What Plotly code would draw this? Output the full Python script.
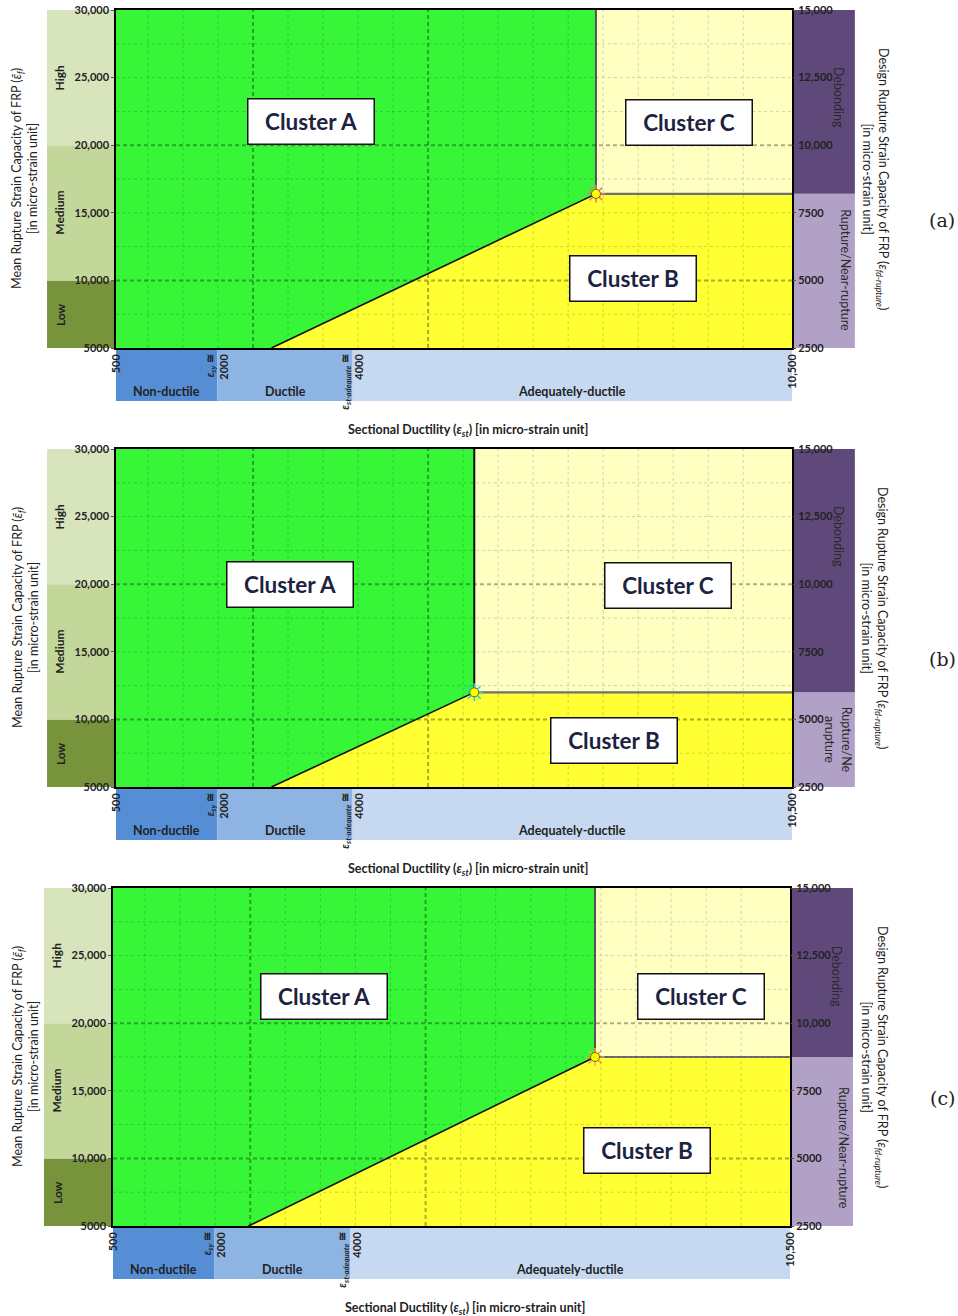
import numpy as np
import plotly.graph_objects as go

# ---------------- data ----------------
panel_labels = ["(a)", "(b)", "(c)"]
diag_start_x = [2800, 2800, 2500]        # where the A/B boundary leaves the x axis
break_x = [7600, 5800, 7620]             # corner point (ductility)
break_y = [16400, 12000, 17500]          # corner point (mean rupture strain)

x_range = [500, 10500]
y_left_range = [5000, 30000]
y_right_range = [2500, 15000]

x_tickvals = [500, 2000, 4000, 10500]
x_ticktext = ["500",
              "<span style='font-size:11px'><i>ε<sub>sy</sub></i> ≅</span><br>2000",
              "<span style='font-size:11px'><i>ε<sub>st-adequate</sub></i> ≅</span><br>4000",
              "10,500"]
y_left_ticks = [5000, 10000, 15000, 20000, 25000, 30000]
y_left_text = ["5000", "10,000", "15,000", "20,000", "25,000", "30,000"]
y_right_ticks = [2500, 5000, 7500, 10000, 12500, 15000]
y_right_text = ["2500", "5000", "7500", "10,000", "12,500", "15,000"]

frp_class_edges = [5000, 10000, 20000, 30000]
frp_class_names = ["Low", "Medium", "High"]
duct_class_edges = [500, 2000, 4000, 10500]
duct_class_names = ["Non-ductile", "Ductile", "Adequately-ductile"]
mode_names = ["Rupture/Near-rupture", "Debonding"]
mode_names_b = "Rupture/Ne<br>arupture"
debond_label_y = [0.74, 0.74, 0.74]      # fraction of plot height
rupture_label_y = [0.23, 0.14, 0.23]

cluster_names = ["Cluster A", "Cluster B", "Cluster C"]
# label box centres (fraction of plot area)
cluster_pos = [
    {"Cluster A": (0.288, 0.669), "Cluster B": (0.765, 0.207), "Cluster C": (0.848, 0.666)},
    {"Cluster A": (0.257, 0.598), "Cluster B": (0.737, 0.139), "Cluster C": (0.817, 0.595)},
    {"Cluster A": (0.312, 0.680), "Cluster B": (0.789, 0.222), "Cluster C": (0.869, 0.680)},
]

# ---------------- styles ----------------
W, H = 958, 1316
plot_px = [  # left, right, top, bottom in page pixels
    (116, 792, 10, 348),
    (116, 792, 449, 787),
    (113, 790, 888, 1226),
]
GRID_X0, GRID_DX = 2527, 518          # dashed grid spacing (style only)
GREEN = "#37f537"
YELLOW = "#ffff33"
LYELLOW = "#ffffc2"
frp_colors = ["#77933c", "#c4d79b", "#d8e4bc"]
duct_colors = ["#558ed5", "#8db4e2", "#c6d9f1"]
mode_colors = ["#b2a1c7", "#5f497a"]
FONT = "Lato"
TXT = "#222222"
CL_TXT = "#1c2340"

fig = go.Figure()
shapes = []
annotations = []
layout = {}


def ann(**kw):
    kw.setdefault("showarrow", False)
    kw.setdefault("xanchor", "center")
    kw.setdefault("yanchor", "middle")
    annotations.append(kw)


for i in range(3):
    xa = "x" if i == 0 else f"x{i + 1}"
    yl = "y" if i == 0 else f"y{2 * i + 1}"
    yr = f"y{2 * i + 2}"
    xkey = "xaxis" if i == 0 else f"xaxis{i + 1}"
    ylkey = "yaxis" if i == 0 else f"yaxis{2 * i + 1}"
    yrkey = f"yaxis{2 * i + 2}"
    L, R, T, B = plot_px[i]
    xdom = [L / W, R / W]
    ydom = [1 - B / H, 1 - T / H]
    x0, px, py = diag_start_x[i], break_x[i], break_y[i]
    xr1 = x_range[1]
    yb, yt = y_left_range

    # regions
    fig.add_trace(go.Scatter(x=[x_range[0], x0, px, px, x_range[0]], y=[yb, yb, py, yt, yt],
                             fill="toself", fillcolor=GREEN, mode="none", xaxis=xa, yaxis=yl,
                             showlegend=False, hoverinfo="skip"))
    fig.add_trace(go.Scatter(x=[x0, xr1, xr1, px], y=[yb, yb, py, py],
                             fill="toself", fillcolor=YELLOW, mode="none", xaxis=xa, yaxis=yl,
                             showlegend=False, hoverinfo="skip"))
    fig.add_trace(go.Scatter(x=[px, xr1, xr1, px], y=[py, py, yt, yt],
                             fill="toself", fillcolor=LYELLOW, mode="none", xaxis=xa, yaxis=yl,
                             showlegend=False, hoverinfo="skip"))

    # grid lines (above fills)
    for j in range(-3, 15):
        gx = GRID_X0 + j * GRID_DX
        thick = j in (0, 5)
        shapes.append(dict(type="line", xref=xa, yref=f"{yl} domain", x0=gx, x1=gx, y0=0, y1=1,
                           line=dict(color="rgba(0,0,0,0.32)" if thick else "rgba(0,0,0,0.17)",
                                     width=2 if thick else 1, dash="4px,3px" if thick else "3px,3px"),
                           layer="above"))
    for gy in np.arange(7500, 30000, 2500):
        thick = gy in (10000, 20000)
        shapes.append(dict(type="line", xref=f"{xa} domain", yref=yl, x0=0, x1=1, y0=gy, y1=gy,
                           line=dict(color="rgba(0,0,0,0.32)" if thick else "rgba(0,0,0,0.17)",
                                     width=2 if thick else 1, dash="4px,3px" if thick else "3px,3px"),
                           layer="above"))

    # boundaries
    fig.add_trace(go.Scatter(x=[x0, px], y=[yb, py], mode="lines", line=dict(color="#111111", width=1.6),
                             xaxis=xa, yaxis=yl, showlegend=False, hoverinfo="skip", cliponaxis=False))
    fig.add_trace(go.Scatter(x=[px, px], y=[py, yt], mode="lines",
                             line=dict(color="#111111" if i == 1 else "#555555", width=2),
                             xaxis=xa, yaxis=yl, showlegend=False, hoverinfo="skip"))
    fig.add_trace(go.Scatter(x=[px, xr1], y=[py, py], mode="lines", line=dict(color="#707070", width=2.2),
                             xaxis=xa, yaxis=yl, showlegend=False, hoverinfo="skip"))
    # corner marker
    fig.add_trace(go.Scatter(x=[px], y=[py], mode="markers",
                             marker=dict(symbol="asterisk-open", size=15, line=dict(color="#4a4a20", width=1.5)),
                             xaxis=xa, yaxis=yl, showlegend=False, hoverinfo="skip", cliponaxis=False))
    fig.add_trace(go.Scatter(x=[px], y=[py], mode="markers",
                             marker=dict(symbol="circle", size=9, color="#ffff00", line=dict(color="#6b6b10", width=1)),
                             xaxis=xa, yaxis=yl, showlegend=False, hoverinfo="skip", cliponaxis=False))
    # dummy for right axis
    fig.add_trace(go.Scatter(x=[xr1, xr1], y=y_right_range, mode="lines", line=dict(width=0),
                             xaxis=xa, yaxis=yr, showlegend=False, hoverinfo="skip"))

    # left bands (FRP class)
    for k, name in enumerate(frp_class_names):
        shapes.append(dict(type="rect", xref=f"{xa} domain", yref=yl, x0=-0.102, x1=0,
                           y0=frp_class_edges[k], y1=frp_class_edges[k + 1],
                           fillcolor=frp_colors[k], line=dict(width=0), layer="below"))
        ann(xref=f"{xa} domain", yref=yl, x=-0.083,
            y=(frp_class_edges[k] + frp_class_edges[k + 1]) / 2,
            text=name, textangle=-90,
            font=dict(family=FONT, size=12, color=TXT, weight="bold"))
    # right bands (failure mode)
    mode_edges = [yb, py, yt]
    for k, name in enumerate(mode_names):
        shapes.append(dict(type="rect", xref=f"{xa} domain", yref=yl, x0=1, x1=1.093,
                           y0=mode_edges[k], y1=mode_edges[k + 1],
                           fillcolor=mode_colors[k], line=dict(width=0), layer="below"))
    ann(xref=f"{xa} domain", yref=f"{yl} domain", x=1.068, y=debond_label_y[i],
        text=mode_names[1], textangle=90,
        font=dict(family=FONT, size=12.5, color="#2a2a2a"))
    ann(xref=f"{xa} domain", yref=f"{yl} domain", x=1.068 if i == 1 else 1.08, y=rupture_label_y[i],
        text=mode_names_b if i == 1 else mode_names[0], textangle=90,
        font=dict(family=FONT, size=12.5, color="#2a2a2a"))
    # bottom bands (ductility class)
    for k, name in enumerate(duct_class_names):
        shapes.append(dict(type="rect", xref=xa, yref=f"{yl} domain",
                           x0=duct_class_edges[k], x1=duct_class_edges[k + 1], y0=-0.157, y1=0,
                           fillcolor=duct_colors[k], line=dict(width=0), layer="below"))
        ann(xref=xa, yref=f"{yl} domain",
            x=(duct_class_edges[k] + duct_class_edges[k + 1]) / 2, y=-0.128,
            text=name,
            font=dict(family=FONT, size=12.5, color=TXT, weight="bold"))

    # cluster label boxes
    for name in cluster_names:
        cx, cy = cluster_pos[i][name]
        ann(xref=f"{xa} domain", yref=f"{yl} domain", x=cx, y=cy,
            text=name, bgcolor="white",
            bordercolor="#111111", borderwidth=1.5, borderpad=0,
            width=125, height=44,
            font=dict(family=FONT, size=22.5, color=CL_TXT, weight="bold"))

    # axis titles
    ann(xref=f"{xa} domain", yref=f"{yl} domain", x=0.52, y=-0.243,
        text="Sectional Ductility (<i>ε<sub>st</sub></i>) [in micro-strain unit]",
        font=dict(family=FONT, size=12.5, color=TXT, weight="bold"))
    ann(xref="paper", yref=f"{yl} domain", x=25 / W, y=0.50,
        text="Mean Rupture Strain Capacity of FRP (<i>ε̄<sub>f</sub></i>)<br>[in micro-strain unit]",
        textangle=-90, font=dict(family=FONT, size=12.5, color=TXT))
    ann(xref="paper", yref=f"{yl} domain", x=875 / W, y=0.50,
        text="Design Rupture Strain Capacity of FRP (<i>ε<sub>fd-rupture</sub></i>)<br>[in micro-strain unit]",
        textangle=90, font=dict(family=FONT, size=12.5, color=TXT))
    ann(xref="paper", yref=f"{yl} domain", x=942 / W, y=0.38,
        text=panel_labels[i],
        font=dict(family="DejaVu Serif", size=19, color="#222222"))

    tickfont = dict(family=FONT, size=11, color=TXT, weight="bold")
    layout[xkey] = dict(domain=xdom, anchor=yl, range=x_range, tickvals=x_tickvals, ticktext=x_ticktext,
                        tickangle=-90, showgrid=False, zeroline=False, showline=True, mirror=True,
                        linecolor="#000000", linewidth=1.5, ticks="", tickfont=tickfont, automargin=False,
                        ticklabeloverflow="allow")
    layout[ylkey] = dict(domain=ydom, anchor=xa, range=y_left_range, tickvals=y_left_ticks,
                         ticktext=y_left_text, showgrid=False, zeroline=False, showline=True, mirror=True,
                         linecolor="#000000", linewidth=1.5, ticks="outside", ticklen=3,
                         tickcolor="#555555", tickfont=tickfont, automargin=False,
                         ticklabeloverflow="allow")
    layout[yrkey] = dict(domain=ydom, anchor=xa, overlaying=yl, side="right", range=y_right_range,
                         tickvals=y_right_ticks, ticktext=y_right_text, showgrid=False, zeroline=False,
                         ticks="outside", ticklen=3, tickcolor="#555555", tickfont=tickfont,
                         automargin=False, ticklabeloverflow="allow")

fig.update_layout(
    width=W, height=H, margin=dict(l=0, r=0, t=0, b=0, autoexpand=False),
    paper_bgcolor="white", plot_bgcolor="white",
    shapes=shapes, annotations=annotations, showlegend=False,
    **layout,
)
fig.write_html("out.html", config={"displayModeBar": False},
               post_script="document.body.style.margin='0px';")
